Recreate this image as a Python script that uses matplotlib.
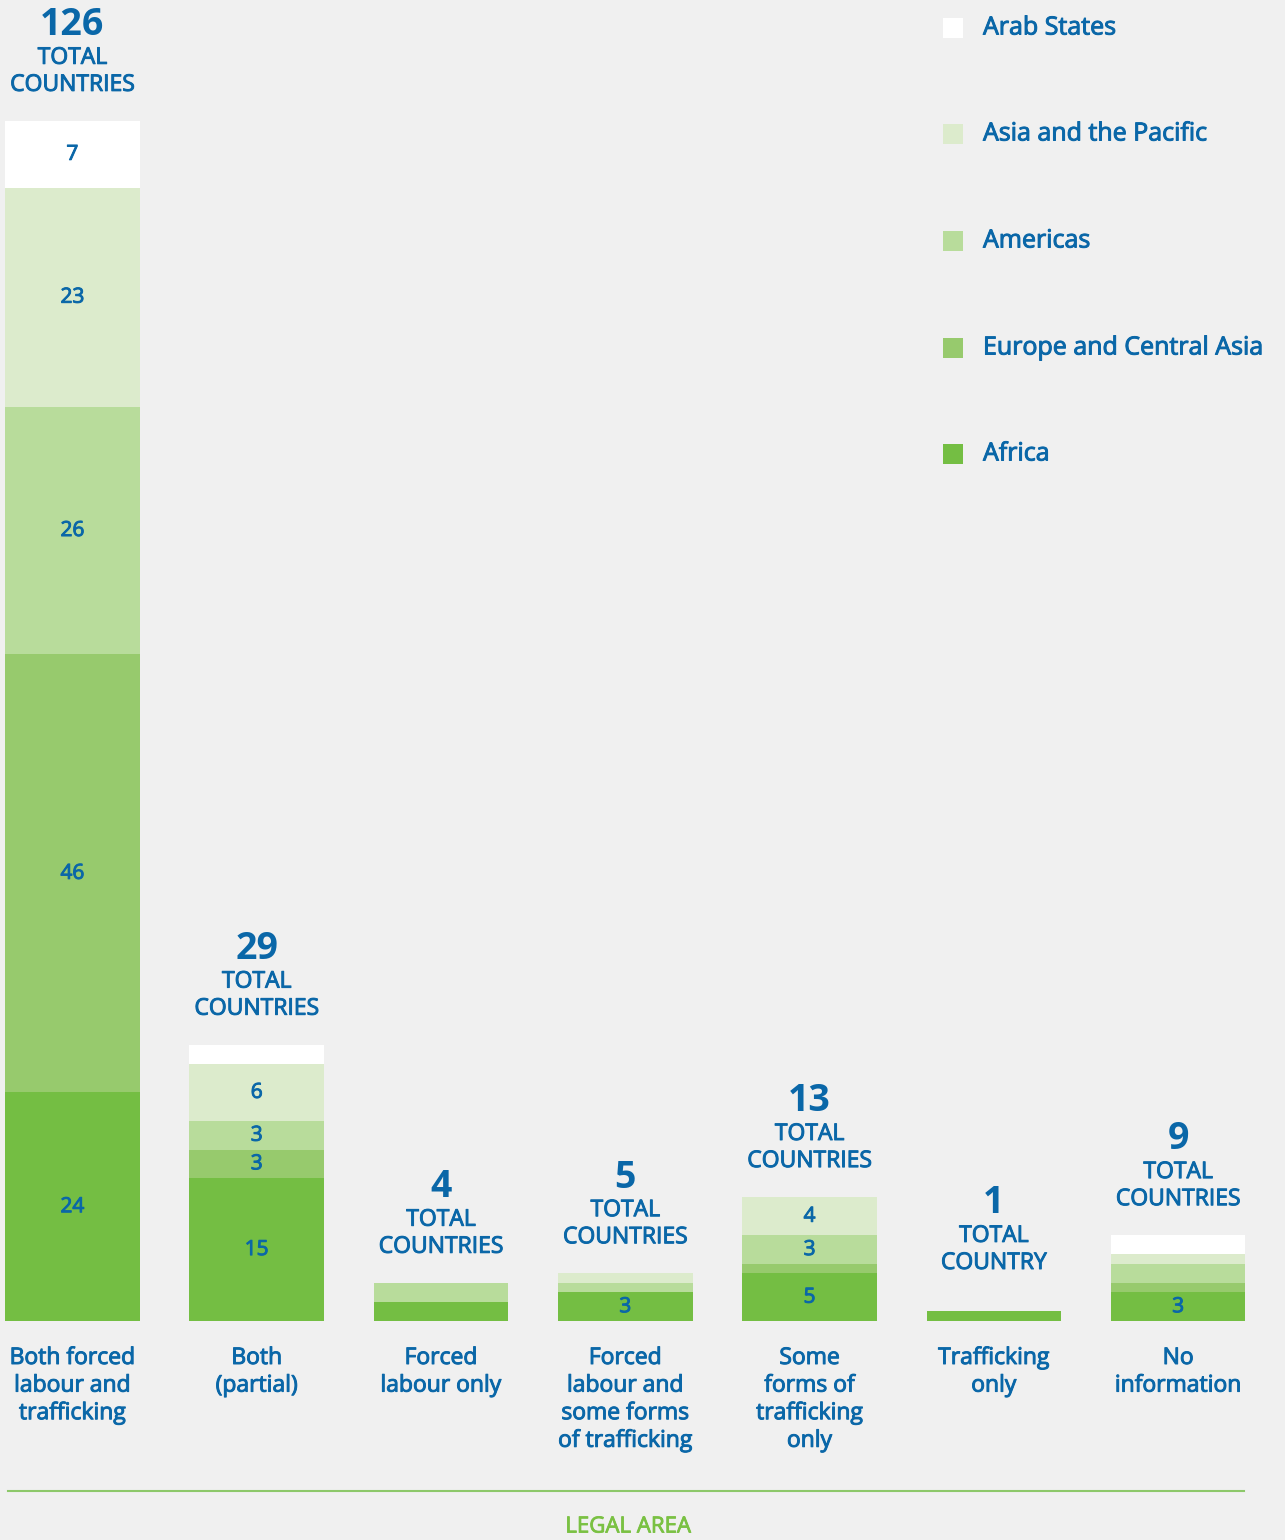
import matplotlib
matplotlib.use("Agg")
import matplotlib.pyplot as plt
import matplotlib.patheffects as pe
from matplotlib.patches import Rectangle
import numpy as np

plt.rcParams['font.family'] = ['Open Sans', 'DejaVu Sans']

categories = ["Both forced\nlabour and\ntrafficking", "Both\n(partial)", "Forced\nlabour only",
              "Forced\nlabour and\nsome forms\nof trafficking", "Some\nforms of\ntrafficking\nonly",
              "Trafficking\nonly", "No\ninformation"]
regions = ["Africa", "Europe and Central Asia", "Americas", "Asia and the Pacific", "Arab States"]
africa = [24, 15, 2, 3, 5, 1, 3]
europe = [46, 3, 0, 0, 1, 0, 1]
americas = [26, 3, 2, 1, 3, 0, 2]
asia_pacific = [23, 6, 0, 1, 4, 0, 1]
arab_states = [7, 2, 0, 0, 0, 0, 2]
total_word = ["COUNTRIES", "COUNTRIES", "COUNTRIES", "COUNTRIES", "COUNTRIES", "COUNTRY", "COUNTRIES"]

colors = ["#74be43", "#97ca6d", "#b8dc9b", "#dcebcc", "#ffffff"]
blue = "#0a67a8"
green = "#7ac143"
bg = "#f0f0f0"

# fake a "medium" weight by stroking the regular glyphs a little
medium = [pe.withStroke(linewidth=0.7, foreground=blue)]
medium_green = [pe.withStroke(linewidth=0.6, foreground=green)]

W, H = 1285, 1540
fig = plt.figure(figsize=(W / 100, H / 100), dpi=100, facecolor=bg)
base_px = 1321
ax = fig.add_axes([0, (H - base_px) / H, 1, base_px / H])
ax.set_facecolor(bg)
ax.axis("off")

x = np.arange(len(categories))
series = [africa, europe, americas, asia_pacific, arab_states]
bottom = np.zeros(len(categories))
for vals, c in zip(series, colors):
    vals = np.array(vals)
    ax.bar(x, vals, width=0.73, bottom=bottom, color=c, linewidth=0)
    for xi, b, v in zip(x, bottom, vals):
        if v >= 3:
            ax.text(xi, b + v / 2, str(v), ha="center", va="center", fontsize=15,
                    color=blue, path_effects=medium)
    bottom = bottom + vals

px_per_unit = 1200 / 126
ax.set_xlim(-72.5 / 184.5, 6 + (W - 1178) / 184.5)
ax.set_ylim(0, base_px / px_per_unit)

totals = bottom
for xi, t, word in zip(x, totals, total_word):
    top = max(t, 2.3)
    ax.annotate(word, (xi, top), xytext=(0, 26), textcoords="offset points",
                ha="center", va="center", fontsize=16.5, color=blue, path_effects=medium)
    ax.annotate("TOTAL", (xi, top), xytext=(0, 45.5), textcoords="offset points",
                ha="center", va="center", fontsize=16.5, color=blue, path_effects=medium)
    ax.annotate(str(int(t)), (xi, top), xytext=(0, 69), textcoords="offset points",
                ha="center", va="center", fontsize=27, color=blue, fontweight="bold")

for xi, lab in zip(x, categories):
    ax.annotate(lab, (xi, 0), xytext=(0, -18), textcoords="offset points",
                ha="center", va="top", fontsize=16.5, color=blue,
                linespacing=1.2, annotation_clip=False, path_effects=medium)

# legend
legend_y = [28, 134, 241, 348, 454]
for name, c, ly in zip(regions[::-1], colors[::-1], legend_y):
    fig.patches.append(Rectangle((943 / W, 1 - (ly + 10) / H), 20 / W, 20 / H,
                                 transform=fig.transFigure, color=c, linewidth=0))
    fig.text(983 / W, 1 - ly / H, name, ha="left", va="center", fontsize=18,
             color=blue, path_effects=medium)

# bottom rule and axis title
fig.add_artist(plt.Line2D([8 / W, 1244 / W], [1 - 1491 / H, 1 - 1491 / H],
                          color="#8dc86a", linewidth=1.5, transform=fig.transFigure))
fig.text(628 / W, 1 - 1527 / H, "LEGAL AREA", ha="center", va="center", fontsize=16,
         color=green, path_effects=medium_green)

fig.savefig("out.png", dpi=100, facecolor=bg)
